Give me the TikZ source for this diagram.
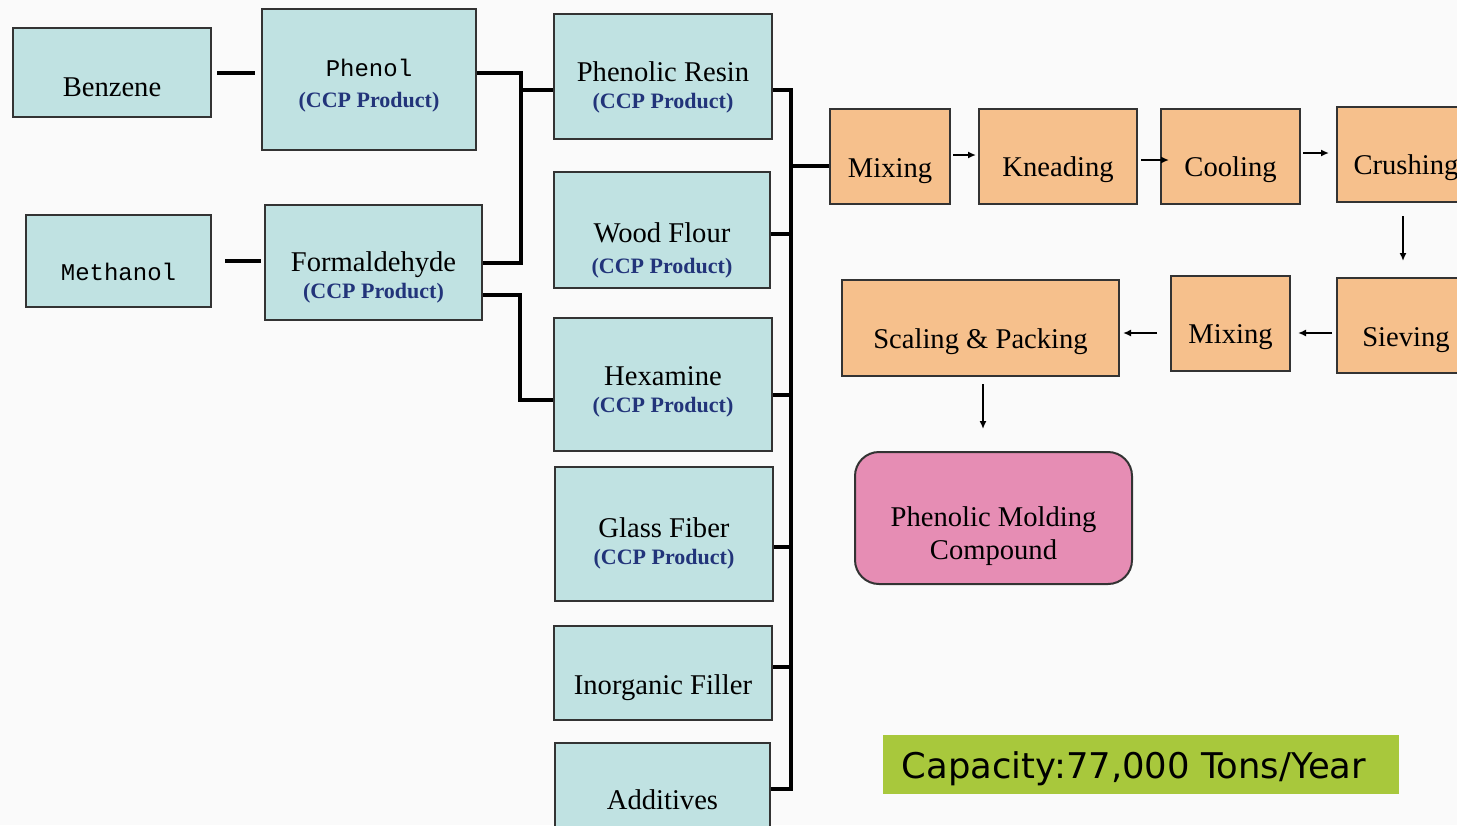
\documentclass[tikz,border=0pt]{standalone}
\usepackage{fontspec}
\setmainfont{Liberation Serif}
\newfontfamily\monofont{Liberation Mono}
\newfontfamily\capfont{DejaVu Sans}
\usetikzlibrary{arrows.meta, calc}
\definecolor{feedcol}{HTML}{C0E2E2}
\definecolor{stepcol}{HTML}{F6C08C}
\definecolor{prodcol}{HTML}{E68DB4}
\definecolor{capcol}{HTML}{A8C83C}
\definecolor{ccpblue}{HTML}{22347A}
\newcommand{\ccpline}[1][-2pt]{\\[#1]{\bfseries\fontsize{11pt}{13pt}\selectfont\color{ccpblue}(CCP Product)}}

\tikzset{
  feed/.style={draw=black!80, line width=1pt, fill=feedcol, inner sep=0pt,
    align=center, font=\fontsize{14.3pt}{15.5pt}\selectfont},
  stepbox/.style={draw=black!80, line width=1pt, fill=stepcol, inner sep=0pt,
    align=center, font=\fontsize{14.3pt}{16pt}\selectfont},
  link/.style={line width=2pt},
  flow/.style={line width=0.8pt, -{Latex[length=4pt,width=3.5pt]}},
}

\begin{document}
\begin{tikzpicture}[x=0.5pt, y=-0.5pt]
  \clip (0,0) rectangle (1457,825);
  \fill[black!2] (0,0) rectangle (1457,825);

  % raw materials
  \node[feed, minimum width=99pt, minimum height=44.5pt, text height=24.3pt] (benzene) at (112,72.5) {Benzene};
  \node[feed, minimum width=92.5pt, minimum height=46pt, text height=19.5pt] (methanol) at (118.5,261) {\monofont\fontsize{12pt}{14pt}\selectfont Methanol};
  \node[feed, minimum width=107pt, minimum height=70.5pt, text height=30.5pt] (phenol) at (369,79.5) {\monofont\fontsize{12pt}{16pt}\selectfont Phenol\ccpline[0pt]};
  \node[feed, minimum width=108.5pt, minimum height=57.5pt, text height=38.6pt] (form) at (373.5,262.5) {Formaldehyde\ccpline};

  % feeds of the compound
  \node[feed, minimum width=109pt, minimum height=62.5pt, text height=34pt] (resin) at (663,76.5) {Phenolic Resin\ccpline};
  \node[feed, minimum width=108pt, minimum height=58pt, text height=46pt] (wood) at (662,230) {Wood Flour\ccpline[0pt]};
  \node[feed, minimum width=109pt, minimum height=66.5pt, text height=30.3pt] (hexa) at (663,384.5) {Hexamine\ccpline};
  \node[feed, minimum width=109pt, minimum height=67pt, text height=32.6pt] (glass) at (664,534) {Glass Fiber\ccpline};
  \node[feed, minimum width=109pt, minimum height=47pt, text height=24.6pt] (filler) at (663,673) {Inorganic Filler};
  \node[feed, minimum width=107.5pt, minimum height=57pt] (addit) at (662.5,800) {Additives};

  % process steps
  \node[stepbox, minimum width=60pt, minimum height=47.5pt, text height=23.6pt] (mixA) at (890,156.5) {Mixing};
  \node[stepbox, minimum width=79pt, minimum height=47.5pt, text height=22.6pt] (knead) at (1058,156.5) {Kneading};
  \node[stepbox, minimum width=69.5pt, minimum height=47.5pt, text height=22.6pt] (cool) at (1230.5,156.5) {Cooling};
  \node[stepbox, minimum width=69pt, minimum height=47.5pt, text height=22.6pt] (crush) at (1406,154.5) {Crushing};
  \node[stepbox, minimum width=69pt, minimum height=47.5pt, text height=23.6pt] (sieve) at (1406,325.5) {Sieving};
  \node[stepbox, minimum width=59.5pt, minimum height=47.5pt, text height=22.6pt] (mixB) at (1230.5,323.5) {Mixing};
  \node[stepbox, minimum width=138.5pt, minimum height=48pt, text height=23.6pt] (pack) at (980.5,328) {Scaling \& Packing};
  \node[stepbox, fill=prodcol, rounded corners=12pt, minimum width=138.5pt, minimum height=66pt,
    text height=44.6pt, font=\fontsize{14.3pt}{16.5pt}\selectfont] (pmc) at (993.5,518) {Phenolic Molding\\Compound};

  \node[fill=capcol, minimum width=258pt, minimum height=29.5pt, inner sep=0pt, text height=17.9pt,
    font=\capfont\fontsize{17.7pt}{19pt}\selectfont] (capac) at (1141,764.5) {\hspace*{-3.5pt}Capacity:77,000 Tons/Year\hspace*{3.5pt}};

  % links
  \coordinate (jA) at (521,90);
  \coordinate (jB) at (520,400);
  \coordinate (busTop) at (791,90);
  \coordinate (busBot) at (791,789);
  \coordinate (bus) at (791,166);

  \draw[link, shorten <=2.5pt, shorten >=3pt] (benzene.east) -- (phenol.west |- benzene.east);
  \draw[link, shorten <=6.5pt, shorten >=1.5pt] (methanol.east) -- (form.west |- methanol.east);
  \draw[link] ([yshift=3.5pt]phenol.east) -| (jA) |- (form.east);
  \draw[link] (jA) -- (resin.west |- jA);
  \draw[link] ([yshift=-16pt]form.east) -| (jB) -- (hexa.west |- jB);

  \draw[link] ([yshift=-6.75pt]resin.east) -- (busTop) -- (busBot) -- ([yshift=5.5pt]addit.east);
  \foreach \feedname/\dy in {wood/-2pt, hexa/-5.25pt, glass/-6.5pt, filler/3pt}
    \draw[link] ([yshift=\dy]\feedname.east) -| (busTop);
  \draw[link] (bus) -- (mixA.west |- bus);

  % flow arrows
  \draw[flow, shorten <=1pt, shorten >=1pt] ([yshift=0.75pt]mixA.east) -- ([yshift=0.75pt]knead.west);
  \draw[flow, shorten <=1.5pt, shorten >=-4.5pt] ([yshift=-1.75pt]knead.east) -- ([yshift=-1.75pt]cool.west);
  \draw[flow, shorten <=1pt, shorten >=3.5pt] ([yshift=1.75pt]cool.east) -- ([yshift=1.75pt]cool.east -| crush.west);
  \draw[flow, shorten <=6.5pt, shorten >=8pt] ([xshift=-1.5pt]crush.south) -- ([xshift=-1.5pt]sieve.north);
  \draw[flow, shorten <=2pt, shorten >=3.5pt] ([yshift=-3.75pt]sieve.west) -- ([yshift=-3.75pt]sieve.west -| mixB.east);
  \draw[flow, shorten <=6.5pt, shorten >=1.5pt] ([yshift=-4.75pt]mixB.west) -- ([yshift=-4.75pt]mixB.west -| pack.east);
  \draw[flow, shorten <=3.5pt, shorten >=11pt] ([xshift=1.25pt]pack.south) -- ([xshift=1.25pt]pack.south |- pmc.north);
\end{tikzpicture}
\end{document}
